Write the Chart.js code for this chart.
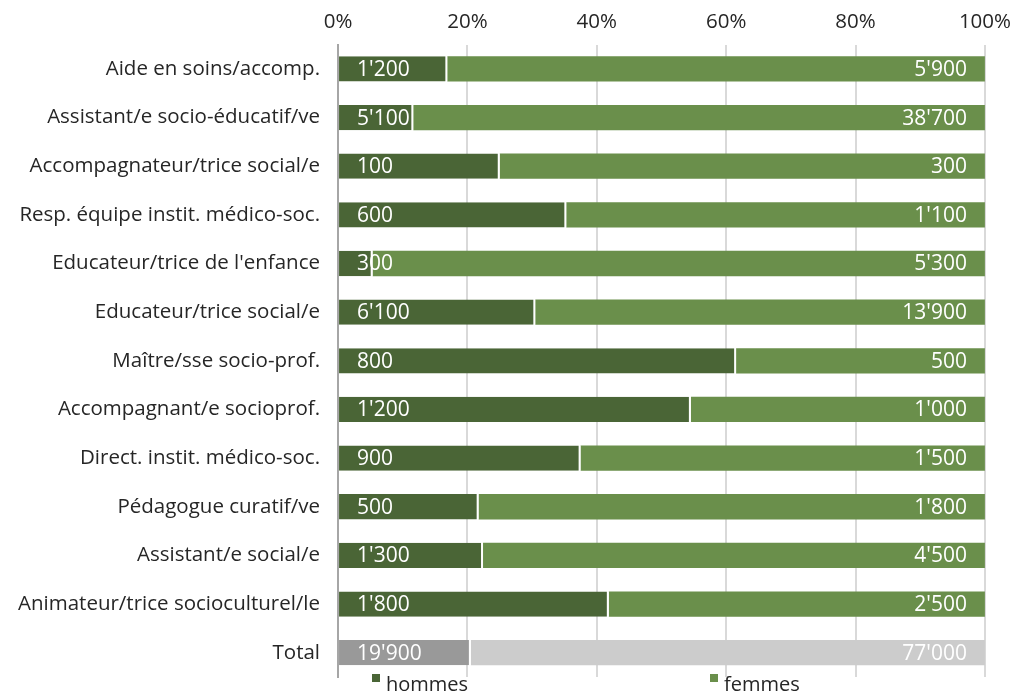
<!DOCTYPE html>
<html lang="fr">
<head>
  <meta charset="UTF-8">
  <title>Hommes / femmes par profession</title>
  <script src="https://cdn.jsdelivr.net/npm/chart.js"></script>
  <style>
    body {
      margin: 0;
      font-family: "Open Sans", sans-serif;
      background: #fff;
    }
    #wrap {
      position: relative;
      width: 1021px;
      height: 696px;
    }
    #legend {
      position: absolute;
      top: 670px;
      left: 0;
      font-size: 20px;
      color: #262626;
    }
    .item {
      position: absolute;
      white-space: nowrap;
    }
    .box {
      display: inline-block;
      width: 8px;
      height: 8px;
      margin-right: 6px;
      vertical-align: 9px;
    }
  </style>
</head>
<body>
  <div id="wrap">
    <canvas id="chart" width="1021" height="696"></canvas>
    <div id="legend">
      <span class="item" style="left:372px"><span class="box" style="background:#4a6536"></span>hommes</span>
      <span class="item" style="left:710px"><span class="box" style="background:#6a8f4b"></span>femmes</span>
    </div>
  </div>

  <script>
    const labels = [
      'Aide en soins/accomp.',
      'Assistant/e socio-éducatif/ve',
      'Accompagnateur/trice social/e',
      'Resp. équipe instit. médico-soc.',
      "Educateur/trice de l'enfance",
      'Educateur/trice social/e',
      'Maître/sse socio-prof.',
      'Accompagnant/e socioprof.',
      'Direct. instit. médico-soc.',
      'Pédagogue curatif/ve',
      'Assistant/e social/e',
      'Animateur/trice socioculturel/le',
      'Total'
    ];
    const hommes = [1200, 5100, 100, 600, 300, 6100, 800, 1200, 900, 500, 1300, 1800, 19900];
    const femmes = [5900, 38700, 300, 1100, 5300, 13900, 500, 1000, 1500, 1800, 4500, 2500, 77000];
    const xTicks = ['0%', '20%', '40%', '60%', '80%', '100%'];

    // share of each row, for the 100% stack
    const hommesPct = hommes.map((h, i) => 100 * h / (h + femmes[i]));
    const femmesPct = femmes.map((f, i) => 100 * f / (hommes[i] + f));

    const last = labels.length - 1;
    const hommesColors = labels.map((l, i) => i === last ? '#999999' : '#4a6536');
    const femmesColors = labels.map((l, i) => i === last ? '#cccccc' : '#6a8f4b');

    function fmt(n) {
      return String(n).replace(/\B(?=(\d{3})+(?!\d))/g, "'");
    }

    const valueLabels = {
      id: 'valueLabels',
      afterDatasetsDraw(chart) {
        const ctx = chart.ctx;
        ctx.save();
        ctx.font = '21px "Open Sans", sans-serif';
        ctx.fillStyle = '#ffffff';
        ctx.textBaseline = 'middle';
        const raw = [hommes, femmes];
        chart.data.datasets.forEach((ds, d) => {
          chart.getDatasetMeta(d).data.forEach((bar, i) => {
            const txt = fmt(raw[d][i]);
            if (d === 0) {
              ctx.textAlign = 'left';
              ctx.fillText(txt, bar.base + 18, bar.y + 1);
            } else {
              ctx.textAlign = 'right';
              ctx.fillText(txt, bar.x - 18, bar.y + 1);
            }
          });
        });
        ctx.restore();
      }
    };

    new Chart(document.getElementById('chart'), {
      type: 'bar',
      data: {
        labels: labels,
        datasets: [
          { label: 'hommes', data: hommesPct, backgroundColor: hommesColors, borderColor: '#ffffff', borderWidth: { right: 2 }, borderSkipped: false },
          { label: 'femmes', data: femmesPct, backgroundColor: femmesColors, borderWidth: 0 }
        ]
      },
      options: {
        indexAxis: 'y',
        responsive: false,
        animation: false,
        categoryPercentage: 0.52,
        barPercentage: 1,
        layout: { padding: { top: 0, right: 35, bottom: 19, left: 0 } },
        plugins: {
          legend: { display: false },
          tooltip: { enabled: false }
        },
        scales: {
          x: {
            position: 'top',
            stacked: true,
            min: 0,
            max: 100,
            ticks: {
              stepSize: 20,
              padding: 10,
              color: '#262626',
              font: { family: '"Open Sans", sans-serif', size: 20.5 },
              callback: (v, i) => xTicks[i]
            },
            grid: { color: '#d9d9d9', lineWidth: 2, drawTicks: false },
            border: { display: false }
          },
          y: {
            stacked: true,
            // labels sit between grid rows, no extra room needed above/below
            afterFit: s => { s.paddingTop = 0; s.paddingBottom = 0; },
            ticks: {
              padding: 18,
              color: '#262626',
              font: { family: '"Open Sans", sans-serif', size: 20.5 }
            },
            grid: { display: false, drawTicks: false },
            border: { display: true, color: '#a6a6a6', width: 2 }
          }
        }
      },
      plugins: [valueLabels]
    });
  </script>
</body>
</html>
